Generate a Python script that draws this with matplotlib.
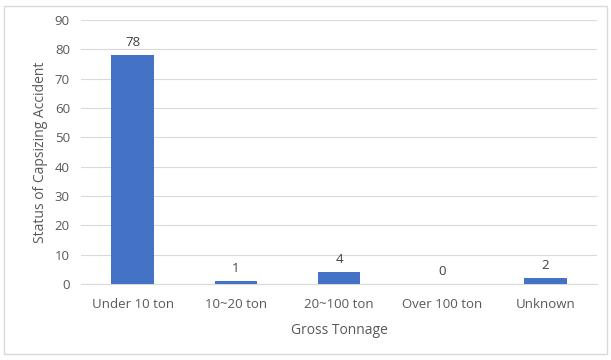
import matplotlib.pyplot as plt
from matplotlib.patches import Rectangle

categories = ["Under 10 ton", "10~20 ton", "20~100 ton", "Over 100 ton", "Unknown"]
counts = [78, 1, 4, 0, 2]
yticks = [0, 10, 20, 30, 40, 50, 60, 70, 80, 90]

W, H = 611, 360
fig = plt.figure(figsize=(W / 100, H / 100), dpi=100)
plt.rcParams['font.family'] = ['Open Sans', 'DejaVu Sans']

# outer chart frame
fig.patches.append(Rectangle((4 / W, 6 / H), 603 / W, 348 / H, transform=fig.transFigure,
                             fill=False, edgecolor='#d9d9d9', linewidth=1))

ax = fig.add_axes([81 / W, 1 - 284 / H, 516 / W, 264 / H])
x = range(len(categories))
bars = ax.bar(x, counts, width=0.41, color='#4472c4', zorder=3)
for xi, v in zip(x, counts):
    ax.text(xi, v + 2.2, str(v), ha='center', va='bottom', fontsize=9.5, color='#404040')

ax.set_xlim(-0.5, len(categories) - 0.5)
ax.set_ylim(0, 90)
ax.set_yticks(yticks)
ax.grid(axis='y', color='#d9d9d9', linewidth=0.8, zorder=0)
for s in ['top', 'right', 'left']:
    ax.spines[s].set_visible(False)
ax.spines['bottom'].set_color('#d9d9d9')
ax.tick_params(axis='both', length=0, labelsize=9.5, labelcolor='#595959')
ax.tick_params(axis='x', pad=10)
ax.tick_params(axis='y', pad=8)
ax.set_xticks(list(x))
ax.set_xticklabels(categories)
ax.set_xlabel("Gross Tonnage", fontsize=10, color='#595959', labelpad=9)
ax.set_ylabel("Status of Capsizing Accident", fontsize=10, color='#595959', labelpad=5)

fig.savefig("out.png", dpi=100)
